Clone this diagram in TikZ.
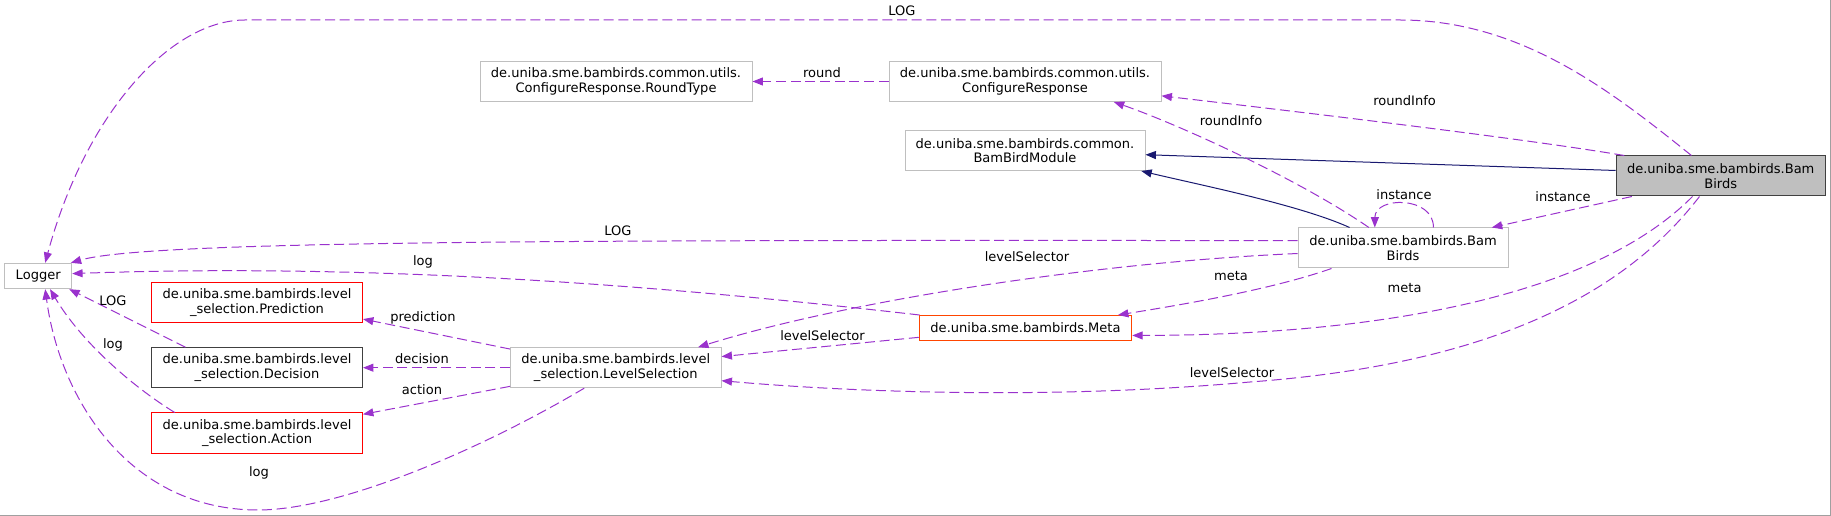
\documentclass[tikz,border=0pt]{standalone}
\usepackage{fontspec}
\setmainfont{DejaVu Sans}
\usetikzlibrary{arrows.meta}
\definecolor{dxuse}{RGB}{154,50,205}
\definecolor{dxinh}{RGB}{25,25,112}
\definecolor{dxbox}{RGB}{191,191,191}
\definecolor{dxdark}{RGB}{64,64,64}
\definecolor{dxred}{RGB}{255,0,0}
\definecolor{dxorange}{RGB}{255,69,0}
\definecolor{dxedge}{RGB}{160,160,160}

\begin{document}
\begin{tikzpicture}[
    x=0.75pt, y=-0.75pt,
    >={Triangle[length=7.8pt,width=6pt]},
    cls/.style={draw=dxbox, line width=0.75pt, fill=white, align=center, inner sep=1pt,
      minimum height=30pt, font=\fontsize{9.77}{11}\selectfont},
    lbl/.style={font=\fontsize{9.77}{11}\selectfont, inner sep=0pt},
    usage/.style={->, dxuse, line width=0.75pt, dash pattern=on 7.5pt off 3.5pt},
    inh/.style={->, dxinh, line width=0.75pt},
  ]

  \useasboundingbox (0,0) rectangle (1831,516);
  \draw[dxedge, line width=0.75pt] (1830.5,0) -- (1830.5,515.5) -- (0,515.5);

  % classes
  \node[cls, minimum height=19pt, minimum width=50.25pt] (logger) at (38.2,276) {Logger};
  \node[cls, draw=dxred, minimum width=158.25pt] (pred) at (257,302.3) {de.uniba.sme.bambirds.level\\\_selection.Prediction};
  \node[cls, draw=dxdark, minimum width=158.25pt] (decis) at (257,367.7) {de.uniba.sme.bambirds.level\\\_selection.Decision};
  \node[cls, draw=dxred, minimum width=158.25pt] (action) at (257,433) {de.uniba.sme.bambirds.level\\\_selection.Action};
  \node[cls, minimum width=157.9pt] (levsel) at (615.8,367.7) {de.uniba.sme.bambirds.level\\\_selection.LevelSelection};
  \node[cls, minimum width=204pt] (roundtype) at (616,81.5) {de.uniba.sme.bambirds.common.utils.\\ConfigureResponse.RoundType};
  \node[cls, minimum width=204pt] (confresp) at (1025,81.5) {de.uniba.sme.bambirds.common.utils.\\ConfigureResponse};
  \node[cls, minimum width=180pt] (module) at (1025,150.5) {de.uniba.sme.bambirds.common.\\BamBirdModule};
  \node[cls, minimum width=157.5pt] (birds) at (1403,248) {de.uniba.sme.bambirds.Bam\\Birds};
  \node[cls, draw=dxorange, minimum height=18.75pt, minimum width=159.4pt] (meta) at (1025.5,328) {de.uniba.sme.bambirds.Meta};
  \node[cls, draw=dxdark, fill=dxbox, minimum width=157pt] (main) at (1720.7,176) {de.uniba.sme.bambirds.Bam\\Birds};

  % inheritance
  \draw[inh] (main.177) -- (module.-2);
  \draw[inh] (birds.159) .. controls (1300,205) and (1200,185) .. (module.-10);

  % usage from the main class
  \draw[usage] (main.145) .. controls (1610,90) and (1520,20) .. (1400,20) -- (245,20)
    .. controls (170,20) and (85,115) .. (logger.62);
  \draw[usage] (main.168) .. controls (1520,138) and (1300,112) .. (confresp.-6);
  \draw[usage] (main.193) -- (birds.13);
  \draw[usage] (main.216) .. controls (1600,290) and (1400,335) .. (meta.-4);
  \draw[usage] (main.224) .. controls (1620,300) and (1480,365) .. (1250,382)
    .. controls (1050,400) and (850,392) .. (levsel.-7);

  % usage from BamBirds
  \draw[usage] (birds.149) .. controls (1300,180) and (1180,125) .. (confresp.-13);
  \draw[usage] (birds.34) .. controls (1434,196) and (1375,196) .. (birds.144);
  \draw[usage] (birds.176) .. controls (600,240) and (150,240) .. (logger.22);
  \draw[usage] (birds.183) .. controls (1100,262) and (850,300) .. (levsel.14);
  \draw[usage] (birds.196) .. controls (1270,290) and (1180,305) .. (meta.8);
  \draw[usage] (confresp.west) -- (roundtype.east);

  % usage from Meta and LevelSelection
  \draw[usage] (meta.173) .. controls (700,290) and (400,262) .. (logger.4);
  \draw[usage] (meta.185) -- (levsel.6);
  \draw[usage] (levsel.170) -- (pred.-9);
  \draw[usage] (levsel.west) -- (decis.east);
  \draw[usage] (levsel.190) -- (action.10);
  \draw[usage] (levsel.213) .. controls (480,450) and (340,510) .. (258,510)
    .. controls (130,510) and (60,400) .. (logger.-62);
  \draw[usage] (decis.164) -- (logger.-23);
  \draw[usage] (action.166) .. controls (130,385) and (80,340) .. (logger.-48);

  % edge labels
  \node[lbl] (l1) at (902,10.5) {LOG};
  \node[lbl] (l2) at (1404.6,100.7) {roundInfo};
  \node[lbl] (l3) at (1231,120.7) {roundInfo};
  \node[lbl] (l4) at (822,72.3) {round};
  \node[lbl] (l5) at (1404,194.7) {instance};
  \node[lbl] (l6) at (1563,196.7) {instance};
  \node[lbl] (l7) at (618,231) {LOG};
  \node[lbl] (l8) at (1027,256.7) {levelSelector};
  \node[lbl] (l9) at (1231,275.7) {meta};
  \node[lbl] (l10) at (1404.6,287.7) {meta};
  \node[lbl] (l11) at (822.5,335.3) {levelSelector};
  \node[lbl] (l12) at (1232,372.7) {levelSelector};
  \node[lbl] (l13) at (423,262) {log};
  \node[lbl] (l14) at (113,301) {LOG};
  \node[lbl] (l15) at (113,345) {log};
  \node[lbl] (l16) at (423,318) {prediction};
  \node[lbl] (l17) at (422,359) {decision};
  \node[lbl] (l18) at (422,390) {action};
  \node[lbl] (l19) at (259,473) {log};

\end{tikzpicture}
\end{document}
